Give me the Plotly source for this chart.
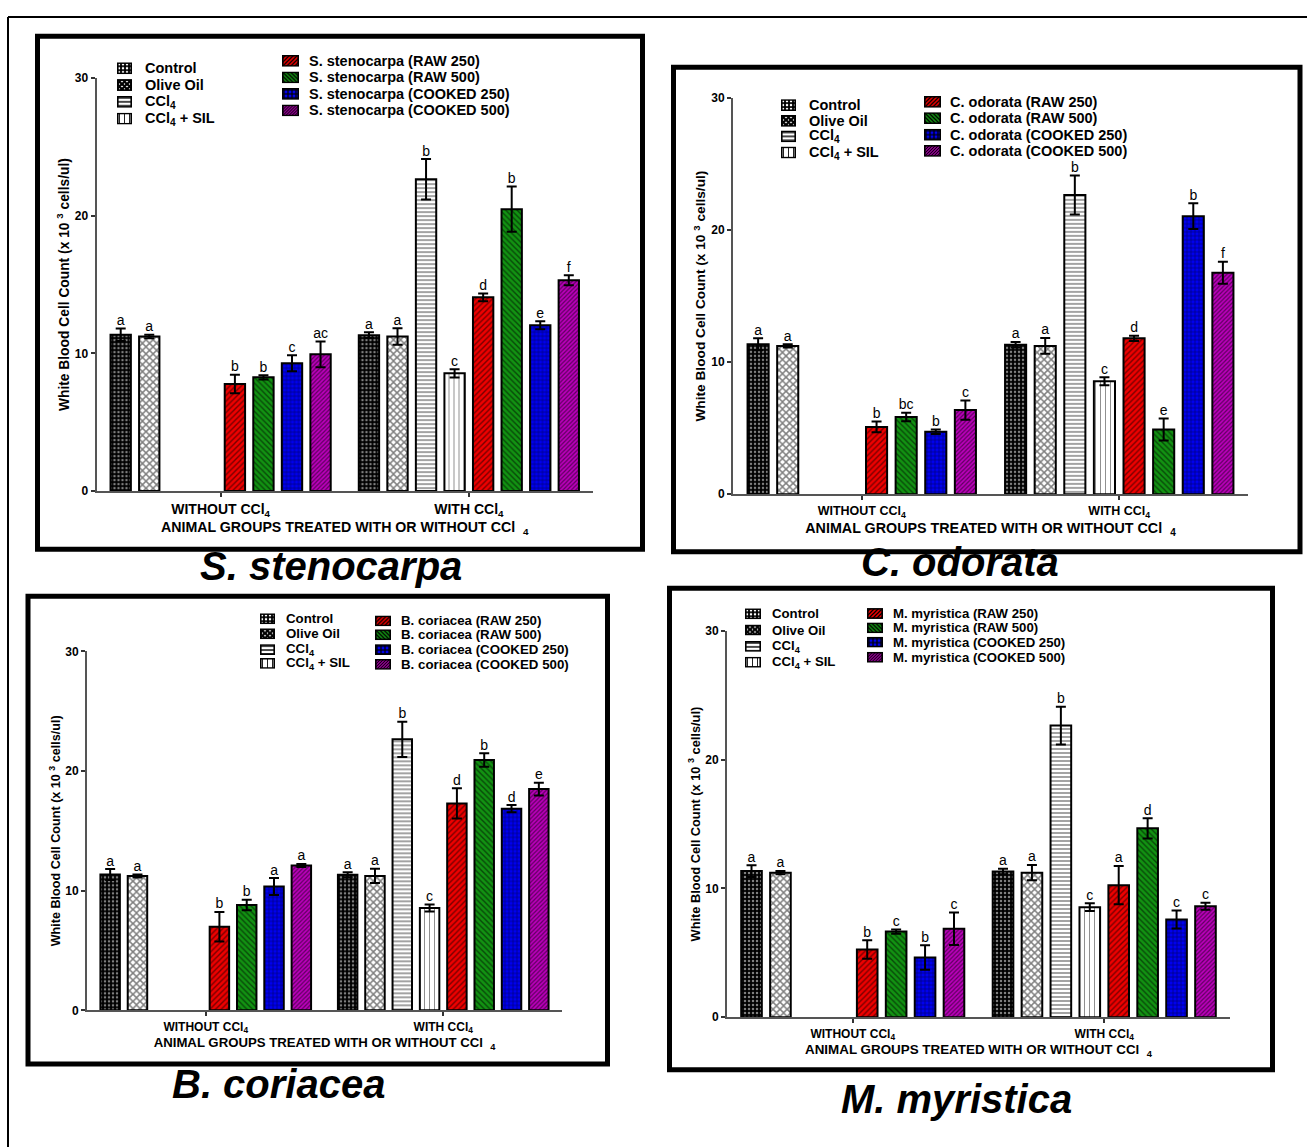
import base64
import math

import plotly.graph_objects as go

W, H = 1307, 1147
FONT = "Liberation Sans, Arial, Helvetica, sans-serif"

GROUPS = ["WITHOUT CCl<sub>4</sub>", "WITH CCl<sub>4</sub>"]
DOSES = ["RAW 250", "RAW 500", "COOKED 250", "COOKED 500"]
REFERENCE_NAMES = ["Control", "Olive Oil", "CCl<sub>4</sub>", "CCl<sub>4</sub> + SIL"]

# Reference groups shared by every panel, ordered [without CCl4, with CCl4]
CONTROL_MEAN = [11.35, 11.32]
CONTROL_ERR = [0.45, 0.21]
CONTROL_LETTERS = ["a", "a"]
OLIVE_MEAN = [11.23, 11.23]
OLIVE_ERR = [0.13, 0.60]
OLIVE_LETTERS = ["a", "a"]
CCL4_MEAN = [None, 22.65]
CCL4_ERR = [None, 1.47]
CCL4_LETTERS = ["", "b"]
SIL_MEAN = [None, 8.55]
SIL_ERR = [None, 0.30]
SIL_LETTERS = ["", "c"]

# Extract-treated groups, ordered as DOSES
STENO_WITHOUT = [7.78, 8.26, 9.28, 9.93]
STENO_WITHOUT_ERR = [0.67, 0.15, 0.58, 0.93]
STENO_WITHOUT_LETTERS = ["b", "b", "c", "ac"]
STENO_WITH = [14.07, 20.48, 12.04, 15.31]
STENO_WITH_ERR = [0.29, 1.65, 0.29, 0.36]
STENO_WITH_LETTERS = ["d", "b", "e", "f"]

ODORATA_WITHOUT = [5.10, 5.85, 4.73, 6.37]
ODORATA_WITHOUT_ERR = [0.40, 0.32, 0.17, 0.72]
ODORATA_WITHOUT_LETTERS = ["b", "bc", "b", "c"]
ODORATA_WITH = [11.80, 4.90, 21.05, 16.76]
ODORATA_WITH_ERR = [0.20, 0.83, 0.97, 0.83]
ODORATA_WITH_LETTERS = ["d", "e", "b", "f"]

CORIACEA_WITHOUT = [6.98, 8.80, 10.34, 12.10]
CORIACEA_WITHOUT_ERR = [1.24, 0.44, 0.71, 0.13]
CORIACEA_WITHOUT_LETTERS = ["b", "b", "a", "a"]
CORIACEA_WITH = [17.29, 20.92, 16.85, 18.49]
CORIACEA_WITH_ERR = [1.26, 0.57, 0.30, 0.53]
CORIACEA_WITH_LETTERS = ["d", "b", "d", "e"]

MYRISTICA_WITHOUT = [5.26, 6.65, 4.64, 6.87]
MYRISTICA_WITHOUT_ERR = [0.72, 0.17, 0.95, 1.26]
MYRISTICA_WITHOUT_LETTERS = ["b", "c", "b", "c"]
MYRISTICA_WITH = [10.26, 14.67, 7.59, 8.62]
MYRISTICA_WITH_ERR = [1.49, 0.79, 0.69, 0.28]
MYRISTICA_WITH_LETTERS = ["a", "d", "c", "c"]

# Fill patterns: 4 reference groups followed by the 4 extract doses
PATTERNS = [
    dict(shape=".", bgcolor="black", fgcolor="white", size=4, solidity=0.3),
    dict(shape="x", bgcolor="white", fgcolor="black", size=5, solidity=0.5),
    dict(shape="-", bgcolor="white", fgcolor="#333333", size=4, solidity=0.45),
    dict(shape="|", bgcolor="white", fgcolor="#222222", size=5, solidity=0.2),
    dict(shape="/", bgcolor="#ee0000", fgcolor="black", size=4, solidity=0.35),
    dict(shape="\\", bgcolor="#129212", fgcolor="black", size=4, solidity=0.35),
    dict(shape="+", bgcolor="#0000ee", fgcolor="black", size=4, solidity=0.3),
    dict(shape="/", bgcolor="#bb00bb", fgcolor="black", size=3, solidity=0.4),
]


def fx(p):
    return p / W


def fy(p):
    return 1 - p / H


def swatch_uri(pat, w, h):
    """Small SVG key box filled with the same pattern as the bars."""
    s, sol, fg, bg = pat["size"], pat["solidity"], pat["fgcolor"], pat["bgcolor"]
    shape = pat["shape"]
    fwd = f"M{-s},{s} L{s},{-s} M0,{2 * s} L{2 * s},0 M{-s},{2 * s} L{2 * s},{-s}"
    back = f"M{-s},0 L{s},{2 * s} M0,{-s} L{2 * s},{s} M{-s},{-s} L{2 * s},{2 * s}"
    if shape == ".":
        r = math.sqrt(sol * s * s / math.pi)
        body = f'<circle cx="{s / 2}" cy="{s / 2}" r="{min(r, s / 2):.2f}" fill="{fg}"/>'
    elif shape == "-":
        t = s * sol
        body = f'<rect x="0" y="{(s - t) / 2}" width="{s}" height="{t}" fill="{fg}"/>'
    elif shape == "|":
        t = s * sol
        body = f'<rect x="{(s - t) / 2}" y="0" width="{t}" height="{s}" fill="{fg}"/>'
    elif shape == "+":
        t = s * sol
        body = (f'<rect x="0" y="{(s - t) / 2}" width="{s}" height="{t}" fill="{fg}"/>'
                f'<rect x="{(s - t) / 2}" y="0" width="{t}" height="{s}" fill="{fg}"/>')
    else:
        t = s * sol * 0.9
        d = {"/": fwd, "\\": back}.get(shape, fwd + " " + back)
        body = f'<path d="{d}" stroke="{fg}" stroke-width="{t:.2f}"/>'
    svg = (f'<svg xmlns="http://www.w3.org/2000/svg" width="{w}" height="{h}" '
           f'viewBox="0 0 {w} {h}"><defs><pattern id="p" width="{s}" height="{s}" '
           f'patternUnits="userSpaceOnUse"><rect width="{s}" height="{s}" fill="{bg}"/>'
           f'{body}</pattern></defs><rect x="0.8" y="0.8" width="{w - 1.6}" '
           f'height="{h - 1.6}" fill="url(#p)" stroke="black" stroke-width="1.6"/></svg>')
    return "data:image/svg+xml;base64," + base64.b64encode(svg.encode()).decode()


# Panel geometry in page pixels
PANELS = [
    dict(species="S. stenocarpa",
         without=(STENO_WITHOUT, STENO_WITHOUT_ERR, STENO_WITHOUT_LETTERS),
         with_=(STENO_WITH, STENO_WITH_ERR, STENO_WITH_LETTERS),
         plot=(96.5, 593, 72, 490), box=(37.5, 29.5, 642.5, 549), title=(331, 566),
         keyL=dict(sw=(117, 15, 12), tx=143, rows=[62, 79, 96, 113]),
         keyR=dict(sw=(282, 17, 12), tx=307, rows=[54.5, 71.3, 88, 104.7]),
         lfs=14.5, tfs=14, yfs=13.8, xtfs=14.2),
    dict(species="C. odorata",
         without=(ODORATA_WITHOUT, ODORATA_WITHOUT_ERR, ODORATA_WITHOUT_LETTERS),
         with_=(ODORATA_WITH, ODORATA_WITH_ERR, ODORATA_WITH_LETTERS),
         plot=(733, 1248, 92, 493.3), box=(673.5, 61, 1300, 551.5), title=(960, 562),
         keyL=dict(sw=(781, 15, 12), tx=807, rows=[99.3, 115.3, 131, 147.3]),
         keyR=dict(sw=(924, 17, 12), tx=948, rows=[96, 112.5, 129.3, 145.7]),
         lfs=14.5, tfs=12.5, yfs=13.7, xtfs=14.3),
    dict(species="B. coriacea",
         without=(CORIACEA_WITHOUT, CORIACEA_WITHOUT_ERR, CORIACEA_WITHOUT_LETTERS),
         with_=(CORIACEA_WITH, CORIACEA_WITH_ERR, CORIACEA_WITH_LETTERS),
         plot=(87, 562, 652.3, 1015.7), box=(28, 596.5, 607.5, 1070), title=(278, 1090),
         keyL=dict(sw=(260, 15, 11), tx=284, rows=[619.3, 634.5, 650.5, 664.5]),
         keyR=dict(sw=(375, 16, 11), tx=398.5, rows=[621.5, 635.5, 650.5, 665.5]),
         lfs=13.3, tfs=12, yfs=12.6, xtfs=13.2),
    dict(species="M. myristica",
         without=(MYRISTICA_WITHOUT, MYRISTICA_WITHOUT_ERR, MYRISTICA_WITHOUT_LETTERS),
         with_=(MYRISTICA_WITH, MYRISTICA_WITH_ERR, MYRISTICA_WITH_LETTERS),
         plot=(727, 1230, 631.7, 1022.7), box=(669.5, 588.5, 1272.5, 1076), title=(956, 1105),
         keyL=dict(sw=(745, 16, 11), tx=769.5, rows=[614.3, 630.7, 647.3, 663.3]),
         keyR=dict(sw=(867, 16, 11), tx=891, rows=[614, 628.5, 643, 658.3]),
         lfs=13.2, tfs=12, yfs=12.8, xtfs=13.4),
]

SLOT = 0.115        # spacing between neighbouring bars, in category units
BAR_W = 0.082       # bar width, in category units

fig = go.Figure()
layout = dict(
    width=W, height=H, margin=dict(l=0, r=0, t=0, b=0),
    paper_bgcolor="white", plot_bgcolor="white",
    font=dict(family=FONT, color="black"),
    showlegend=False, shapes=[], annotations=[], images=[],
)

for i, p in enumerate(PANELS, start=1):
    xa, ya = f"x{i}", f"y{i}"

    w_mean, w_err, w_let = p["without"]
    c_mean, c_err, c_let = p["with_"]
    series = [
        (REFERENCE_NAMES[0], CONTROL_MEAN, CONTROL_ERR, CONTROL_LETTERS),
        (REFERENCE_NAMES[1], OLIVE_MEAN, OLIVE_ERR, OLIVE_LETTERS),
        (REFERENCE_NAMES[2], CCL4_MEAN, CCL4_ERR, CCL4_LETTERS),
        (REFERENCE_NAMES[3], SIL_MEAN, SIL_ERR, SIL_LETTERS),
    ]
    for d, dose in enumerate(DOSES):
        series.append((f"{p['species']} ({dose})",
                       [w_mean[d], c_mean[d]], [w_err[d], c_err[d]],
                       [w_let[d], c_let[d]]))

    for k, (name, mean, err, letters) in enumerate(series):
        xs = [g + (k - 3.5) * SLOT for g in range(len(GROUPS))]
        fig.add_trace(go.Bar(
            x=xs, y=mean, width=BAR_W, name=name,
            xaxis=xa, yaxis=ya,
            marker=dict(pattern=PATTERNS[k], line=dict(color="black", width=2)),
            error_y=dict(type="data", array=err, visible=True,
                         color="black", thickness=2, width=5),
            hoverinfo="skip",
        ))
        tops = [None if m is None else m + e for m, e in zip(mean, err)]
        fig.add_trace(go.Scatter(
            x=xs, y=tops, mode="text", text=letters, textposition="top center",
            textfont=dict(family=FONT, size=14, color="black"),
            xaxis=xa, yaxis=ya, hoverinfo="skip",
        ))

        # key entry: patterned box plus label
        key = p["keyL"] if k < 4 else p["keyR"]
        row = key["rows"][k % 4]
        sx, sw, sh = key["sw"]
        layout["images"].append(dict(
            source=swatch_uri(PATTERNS[k], sw, sh), xref="paper", yref="paper",
            x=fx(sx), y=fy(row), sizex=sw / W, sizey=sh / H,
            xanchor="left", yanchor="middle", sizing="stretch", layer="above",
        ))
        layout["annotations"].append(dict(
            text=name, xref="paper", yref="paper", x=fx(key["tx"]), y=fy(row),
            xanchor="left", yanchor="middle", showarrow=False,
            font=dict(family=FONT, size=p["lfs"], weight=700, color="black"),
        ))

    x0, x1, ytop, ybot = p["plot"]
    layout[f"xaxis{i}"] = dict(
        domain=[fx(x0), fx(x1)], anchor=ya, range=[-0.5, 1.5],
        tickvals=list(range(len(GROUPS))), ticktext=GROUPS,
        ticks="outside", ticklen=4, tickwidth=1.5, tickcolor="#333",
        showline=True, linecolor="#555", linewidth=2,
        showgrid=False, zeroline=False,
        tickfont=dict(family=FONT, size=p["tfs"], weight=700),
        title=dict(text="ANIMAL GROUPS TREATED WITH OR WITHOUT CCl\u00a0\u00a0<sub>4</sub>",
                   font=dict(family=FONT, size=p["xtfs"], weight=700), standoff=1),
    )
    layout[f"yaxis{i}"] = dict(
        domain=[fy(ybot), fy(ytop)], anchor=xa, range=[0, 30],
        tickvals=[0, 10, 20, 30], ticks="outside", ticklen=4, tickwidth=1.5,
        tickcolor="#333", showline=True, linecolor="#555", linewidth=2,
        showgrid=False, zeroline=False,
        tickfont=dict(family=FONT, size=12, weight=700),
        title=dict(text="White Blood Cell Count (x 10 <sup>3</sup> cells/ul)",
                   font=dict(family=FONT, size=p["yfs"], weight=700), standoff=2),
    )

    bx0, by0, bx1, by1 = p["box"]
    layout["shapes"].append(dict(
        type="rect", xref="paper", yref="paper",
        x0=fx(bx0), x1=fx(bx1), y0=fy(by1), y1=fy(by0),
        line=dict(color="black", width=5),
    ))
    cx, cy = p["title"]
    layout["annotations"].append(dict(
        text=f"<b><i>{p['species']}</i></b>", xref="paper", yref="paper",
        x=fx(cx), y=fy(cy), xanchor="center", yanchor="middle", showarrow=False,
        font=dict(family=FONT, size=40, color="black"),
    ))

# Frame lines along the top and left of the page
layout["shapes"].append(dict(type="line", xref="paper", yref="paper",
                             x0=fx(8), x1=1.05, y0=fy(10), y1=fy(10),
                             line=dict(color="black", width=2)))
layout["shapes"].append(dict(type="line", xref="paper", yref="paper",
                             x0=fx(8), x1=fx(8), y0=fy(10), y1=-0.05,
                             line=dict(color="black", width=2)))

fig.update_layout(**layout)
fig.write_html("out.html")
